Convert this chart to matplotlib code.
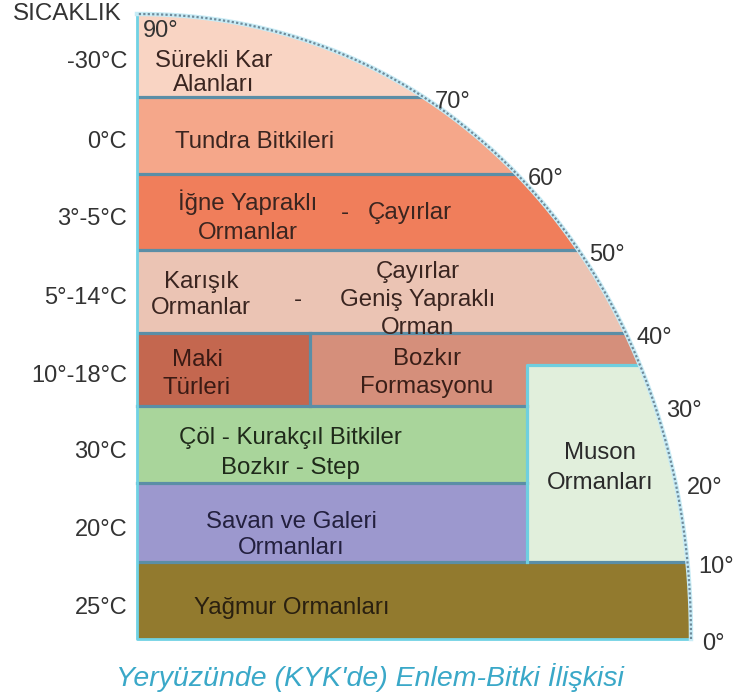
import matplotlib.pyplot as plt
import numpy as np
from matplotlib.patches import Rectangle, Polygon

plt.rcParams['font.family'] = ['Liberation Sans', 'DejaVu Sans']

# chart units: x to the right, y downwards (top of quarter = 14, equator = 639)
leftX = 137
edgesY = [14, 97, 174, 250, 333, 406, 483, 562, 639]
latLabels = ['90°', '70°', '60°', '50°', '40°', '30°', '20°', '10°', '0°']
tempLabels = ['-30°C', '0°C', '3°-5°C', '5°-14°C', '10°-18°C', '30°C', '20°C', '25°C']
bandColors = ['#f9d4c3', '#f5a78a', '#f07e5b', '#ebc4b4', '#d58f7b',
              '#a9d59b', '#9c98ce', '#927a2e']
makiSplitX = 310
makiColor = '#c4674f'
musonLeftX = 527
musonTopY = 365
musonColor = '#e1efdc'

# the rim is a slightly squarish quarter ellipse
radX, radY, expo = 554, 625, 2.07
cenY = edgesY[-1]

def curveX(y):
    d = min(1.0, abs(cenY - y) / radY)
    return leftX + radX * (1 - d ** expo) ** (1 / expo)

t = np.linspace(0, np.pi / 2, 400)
rimX = leftX + radX * np.cos(t) ** (2 / expo)
rimY = cenY - radY * np.sin(t) ** (2 / expo)

fig = plt.figure(figsize=(7.34, 6.99), dpi=100)
ax = fig.add_axes([0, 0, 1, 1])
ax.set_xlim(0, 734)
ax.set_ylim(699, 0)
ax.axis('off')

clip = Polygon(np.column_stack([np.r_[leftX, rimX], np.r_[cenY, rimY]]),
               closed=True, transform=ax.transData, facecolor='none', edgecolor='none')
ax.add_patch(clip)

def clippedRect(x0, y0, x1, y1, color, z=1):
    r = Rectangle((x0, y0), x1 - x0, y1 - y0, facecolor=color, edgecolor='none', zorder=z)
    ax.add_patch(r)
    r.set_clip_path(clip)
    return r

for i in range(len(bandColors)):
    clippedRect(leftX, edgesY[i], 720, edgesY[i + 1], bandColors[i])
clippedRect(leftX, edgesY[4], makiSplitX, edgesY[5], makiColor, 2)
clippedRect(musonLeftX, musonTopY, 720, edgesY[7], musonColor, 2)

lineCol = '#5b8ea6'
for y in edgesY[1:-1]:
    if y in (edgesY[5], edgesY[6]):
        ax.plot([leftX, musonLeftX], [y, y], color=lineCol, lw=2.3, zorder=3)
    else:
        ln, = ax.plot([leftX, 720], [y, y], color=lineCol, lw=2.3, zorder=3)
        ln.set_clip_path(clip)
ax.plot([makiSplitX, makiSplitX], [edgesY[4], edgesY[5]], color=lineCol, lw=2.3, zorder=3)
ln, = ax.plot([musonLeftX, musonLeftX, 720], [edgesY[7], musonTopY, musonTopY],
              color='#6fcfe0', lw=2.3, zorder=3)
ln.set_clip_path(clip)
ax.plot([leftX, leftX, curveX(edgesY[-1])], [edgesY[0], edgesY[-1], edgesY[-1]],
        color='#70d2e4', lw=2.0, zorder=4)

# dotted rim
ax.plot(rimX, rimY, color='#c8ecf6', lw=3.2, zorder=4)
ax.plot(rimX, rimY, color='#6e8a9a', lw=1.6, ls=(0, (1.0, 1.0)), zorder=5)

# latitude labels on the rim
ax.text(leftX + 6, edgesY[0] + 17, latLabels[0], fontsize=17, color='#333333',
        ha='left', va='center', zorder=6)
for y, lab in zip(edgesY[1:], latLabels[1:]):
    ax.text(curveX(y) + 11, y + 5, lab, fontsize=17, color='#333333',
            ha='left', va='center', zorder=6)

# temperature labels
ax.text(122, 14, 'SICAKLIK', fontsize=17.4, color='#333333', ha='right', va='center')
for i, lab in enumerate(tempLabels):
    yc = (edgesY[i] + edgesY[i + 1]) / 2 + 7
    ax.text(127, yc, lab, fontsize=17, color='#333333', ha='right', va='center')

fs = 17.3
darkTxt = '#3a2520'
ax.text(214, 73, 'Sürekli Kar\nAlanları', fontsize=fs, color=darkTxt, ha='center', va='center', linespacing=1.16)
ax.text(255, 142, 'Tundra Bitkileri', fontsize=fs, color=darkTxt, ha='center', va='center')
ax.text(248, 217, 'İğne Yapraklı\nOrmanlar', fontsize=fs, color=darkTxt, ha='center', va='center', linespacing=1.4)
ax.text(345, 213, '-', fontsize=fs, color=darkTxt, ha='center', va='center')
ax.text(410, 213, 'Çayırlar', fontsize=fs, color=darkTxt, ha='center', va='center')
ax.text(201, 295, 'Karışık\nOrmanlar', fontsize=fs, color=darkTxt, ha='center', va='center', linespacing=1.25)
ax.text(298, 300, '-', fontsize=fs, color=darkTxt, ha='center', va='center')
ax.text(418, 300, 'Çayırlar\nGeniş Yapraklı\nOrman', fontsize=fs, color=darkTxt, ha='center', va='center', linespacing=1.35)
ax.text(197, 374, 'Maki\nTürleri', fontsize=fs, color='#3a1a14', ha='center', va='center', linespacing=1.3)
ax.text(427, 373, 'Bozkır\nFormasyonu', fontsize=fs, color='#3a1f18', ha='center', va='center', linespacing=1.4)
ax.text(290, 453, 'Çöl - Kurakçıl Bitkiler\nBozkır - Step', fontsize=fs, color='#1f2a1a', ha='center', va='center', linespacing=1.45)
ax.text(291, 535, 'Savan ve Galeri\nOrmanları', fontsize=fs, color='#23203e', ha='center', va='center', linespacing=1.25)
ax.text(292, 608, 'Yağmur Ormanları', fontsize=fs, color='#2a2010', ha='center', va='center')
ax.text(600, 468, 'Muson\nOrmanları', fontsize=fs, color='#2a2a2a', ha='center', va='center', linespacing=1.5)

ax.text(370, 677, "Yeryüzünde (KYK'de) Enlem-Bitki İlişkisi", fontsize=20.5, style='italic',
        color='#3aa8c8', ha='center', va='center')

fig.savefig('out.png', dpi=100)
